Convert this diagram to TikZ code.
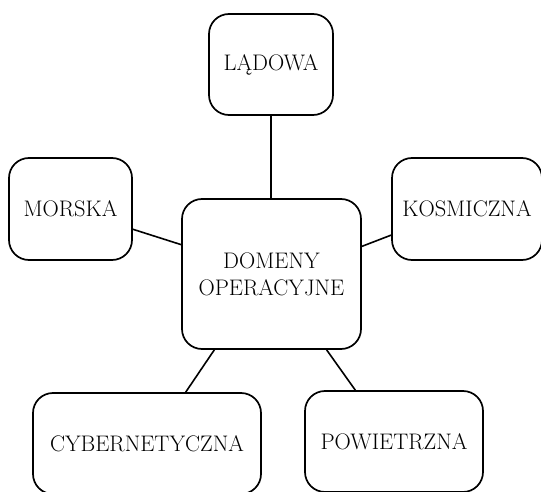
\documentclass[tikz,border=0pt]{standalone}
\usetikzlibrary{calc}
\begin{document}
\begin{tikzpicture}[x=1pt,y=-1pt,
  box/.style={draw=black, line width=1.7pt, rounded corners=20pt, fill=white, align=center,
    font=\fontsize{22.5}{27}\selectfont, inner sep=0pt},
  link/.style={draw=black, line width=1.6pt}]
\useasboundingbox (0,0) rectangle (541,492);
\begin{scope}
\clip (0,0) rectangle (541,492);
\node[box, minimum width=124pt, minimum height=101pt] (lad) at (271,64.5) {LĄDOWA};
\node[box, minimum width=179pt, minimum height=150pt] (dom) at (271.5,274) {DOMENY\\OPERACYJNE};
\node[box, minimum width=123pt, minimum height=102pt] (mor) at (70.5,209) {MORSKA};
\node[box, minimum width=150pt, minimum height=102pt] (kos) at (467,209) {KOSMICZNA};
\node[box, minimum width=228pt, minimum height=101pt] (cyb) at (147,443.5) {CYBERNETYCZNA};
\node[box, minimum width=178pt, minimum height=101pt] (pow) at (394,441.5) {POWIETRZNA};
\draw[link] (lad.south) -- (lad.south |- dom.north);
\draw[link] (mor.-18) -- (dom.162.6);
\draw[link] (kos.199.1) -- (dom.17.4);
\draw[link] (cyb.53.8) -- (dom.233.4);
\draw[link] (pow.127) -- (dom.-54.9);
\end{scope}
\end{tikzpicture}
\end{document}
